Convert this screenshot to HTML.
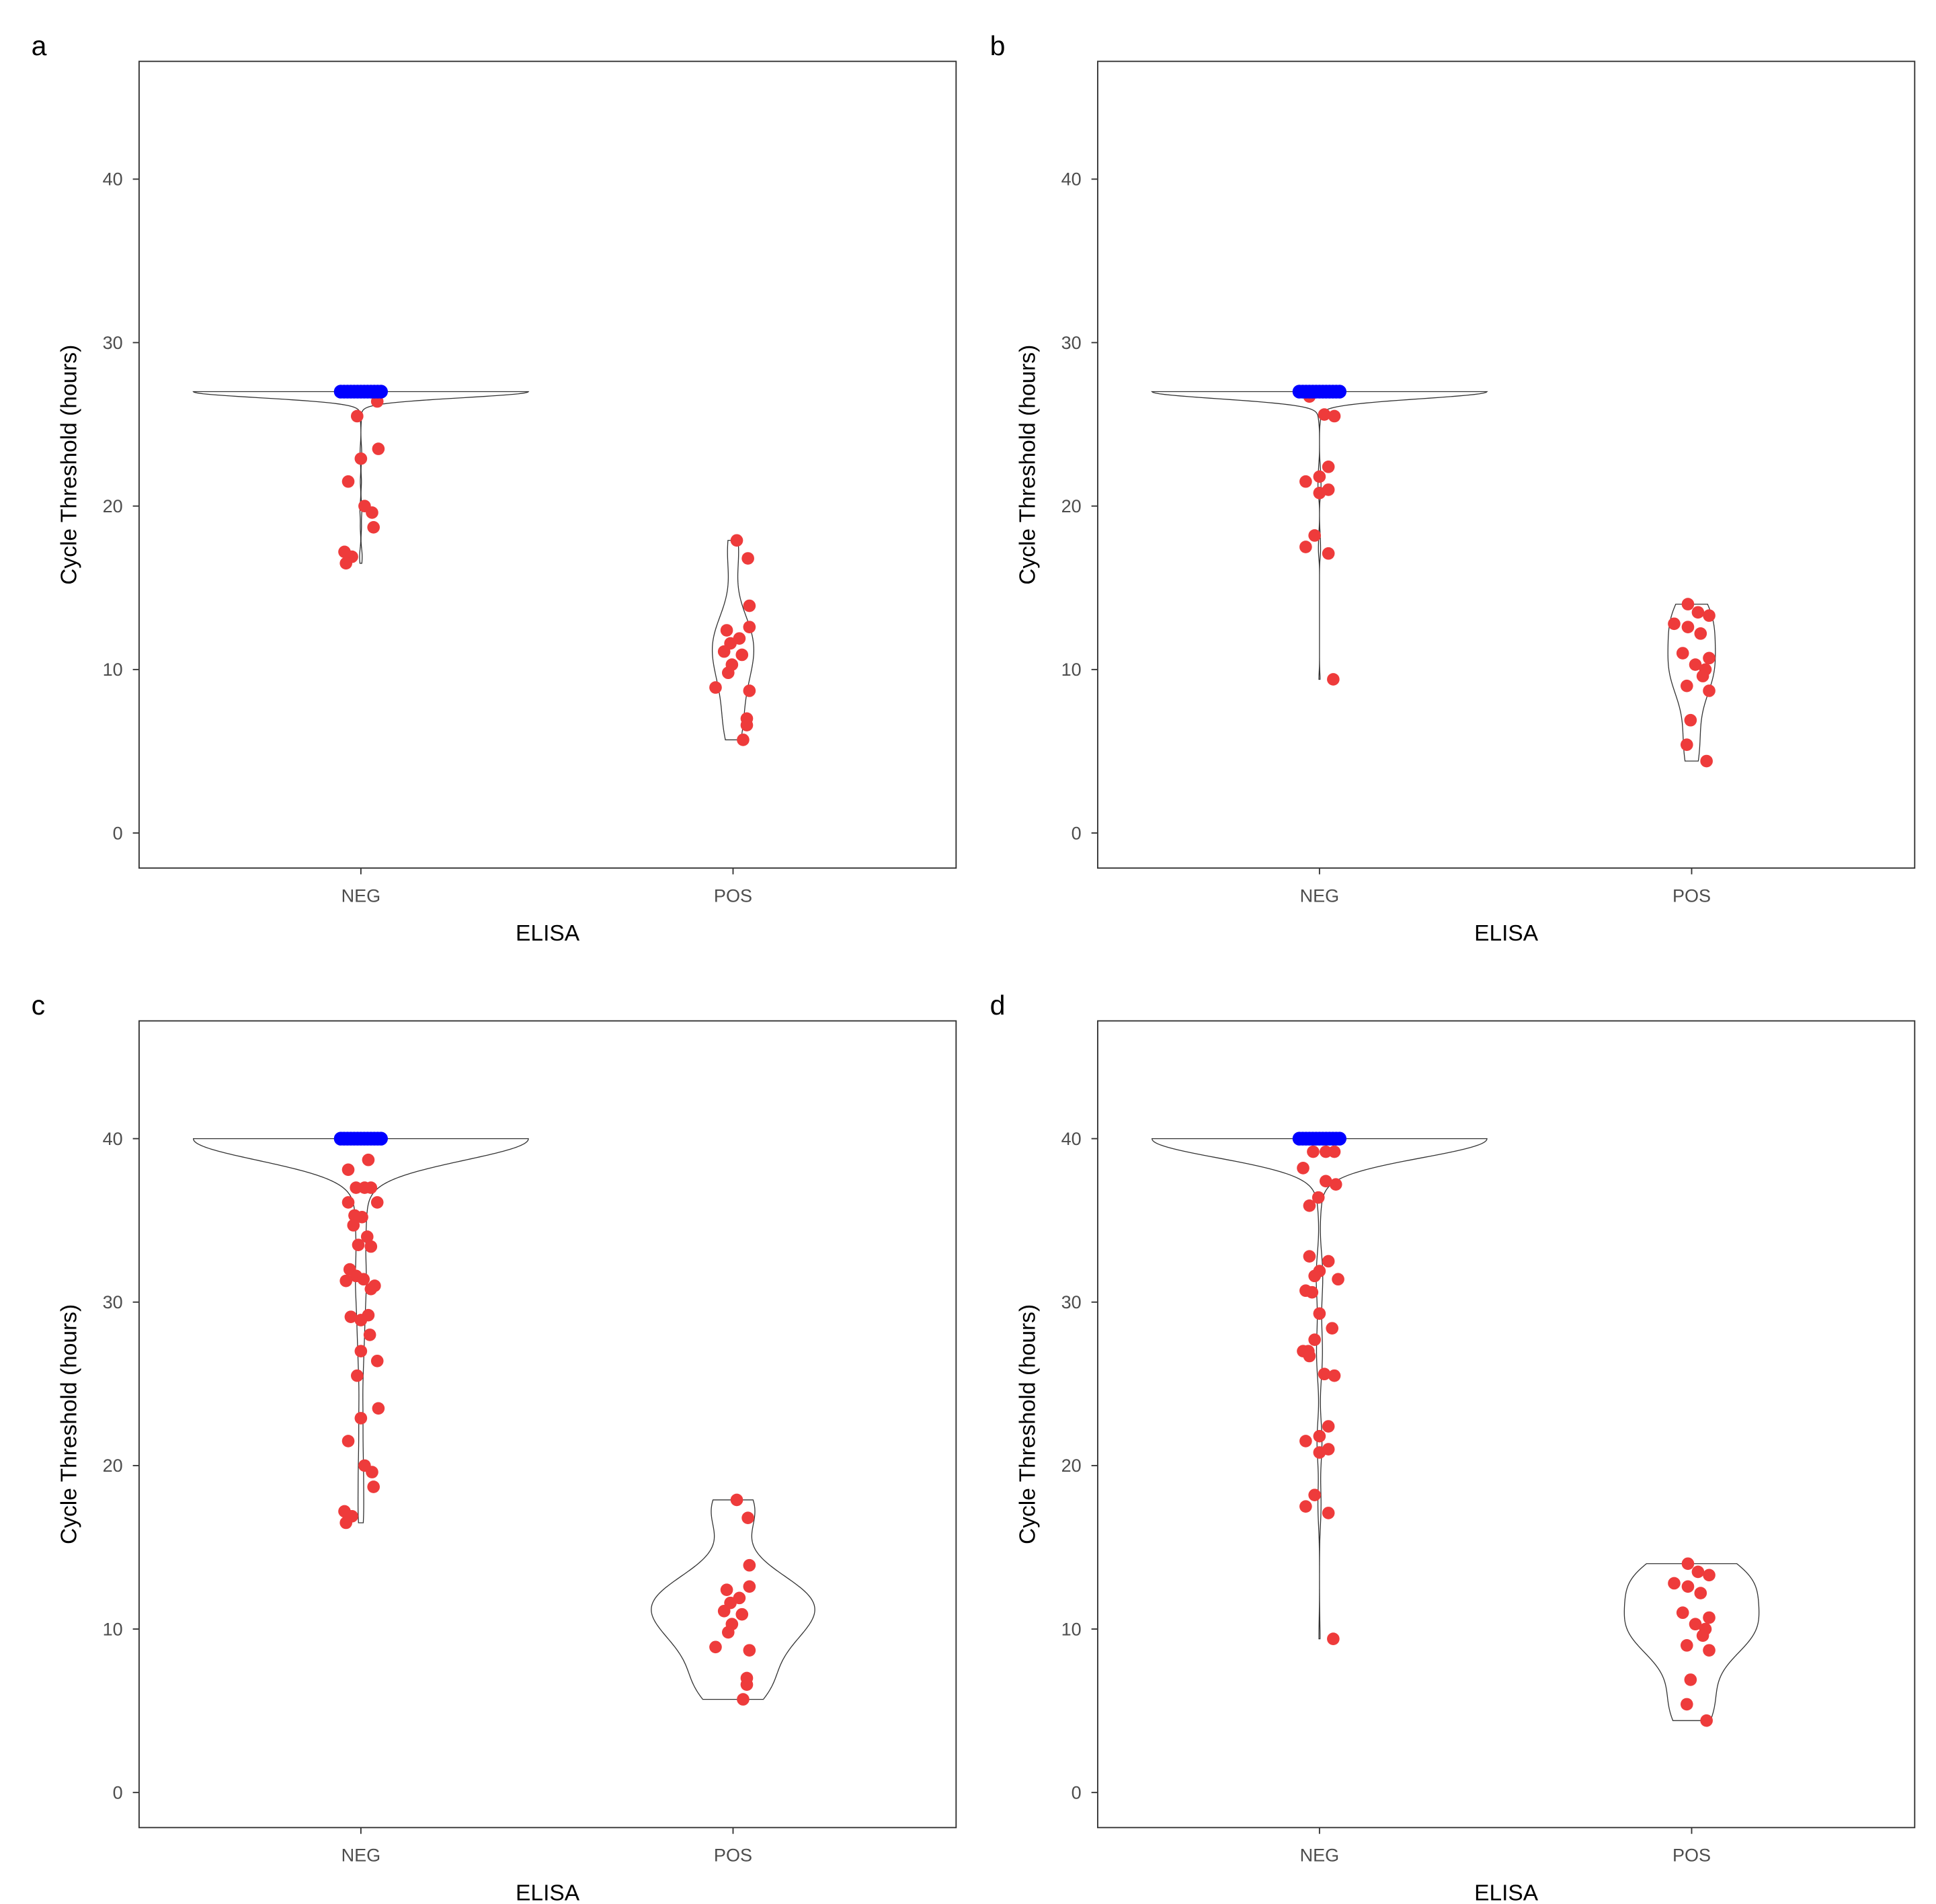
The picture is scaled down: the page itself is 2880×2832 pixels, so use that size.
<!DOCTYPE html>
<html><head><meta charset="utf-8"><style>
html,body{margin:0;padding:0;background:#fff}
svg{display:block}
text{font-family:"Liberation Sans",Arial,sans-serif}
</style></head><body>
<svg id="fig" xmlns="http://www.w3.org/2000/svg" width="2880" height="2832" viewBox="0 0 1545 1520" preserveAspectRatio="none"></svg>
<script>
// ---- data (values in hours, jitter in category units) ----
const categories = ["NEG","POS"];
const yTicks = [0,10,20,30,40];
const panelLabels = ["a","b","c","d"];
const blueValues = [27,27,40,40];
const blueCounts = [300,300,220,300];
const negA = [26.4,25.5,23.5,22.9,21.5,20.0,19.6,18.7,17.2,16.9,16.5];
const negAJit = [.044,-.01,.047,0,-.034,.01,.03,.034,-.044,-.024,-.04];
const posA = [17.9,16.8,13.9,12.6,12.4,11.9,11.6,11.1,10.9,10.3,9.8,8.9,8.7,7.0,6.6,5.7];
const posAJit = [.01,.04,.044,.044,-.017,.017,-.007,-.024,.024,-.003,-.013,-.047,.044,.037,.037,.027];
const negCExtra = [38.7,38.1,37.0,37.0,37.0,36.1,36.1,35.3,35.2,34.7,34.0,33.5,33.4,32.0,31.6,31.3,31.4,31.0,30.8,29.1,29.2,28.9,28.0,27.0];
const negCExtraJit = [.02,-.034,-.013,.01,.027,-.034,.044,-.017,.003,-.02,.017,-.007,.027,-.03,-.013,-.04,.007,.037,.027,-.027,.02,0,.024,0];
const negB = [26.7,25.6,25.5,22.4,21.8,21.5,21.0,20.8,18.2,17.5,17.1,9.4];
const negBJit = [-.027,.013,.04,.024,0,-.037,.024,0,-.013,-.037,.024,.037];
const posB = [14.0,13.5,13.3,12.8,12.6,12.2,11.0,10.7,10.3,10.0,9.6,9.0,8.7,6.9,5.4,4.4];
const posBJit = [-.01,.017,.047,-.047,-.01,.024,-.024,.047,.01,.037,.03,-.013,.047,-.003,-.013,.04];
const negDExtra = [39.2,39.2,39.2,38.2,37.4,37.2,36.4,35.9,32.8,32.5,31.9,31.4,31.6,30.7,30.6,29.3,28.4,27.7,27.0,27.0];
const negDExtraJit = [-.017,.017,.04,-.044,.017,.044,-.003,-.027,-.027,.024,0,.05,-.013,-.037,-.02,0,.034,-.013,-.03,-.044];
const blueJitter = [-.054,-.045,-.036,-.027,-.018,-.009,0,.009,.018,.027,.036,.045,.054];

const NS="http://www.w3.org/2000/svg";
const svg=document.getElementById('fig');
function mk(tag,attrs,parent){const e=document.createElementNS(NS,tag);for(const k in attrs)e.setAttribute(k,attrs[k]);(parent||svg).appendChild(e);return e;}

function kde(vals){
  const n=vals.length;const s=[...vals].sort((a,b)=>a-b);
  const mean=s.reduce((a,b)=>a+b,0)/n;
  const sd=Math.sqrt(s.reduce((a,b)=>a+(b-mean)**2,0)/(n-1));
  const q=p=>{const h=(n-1)*p,l=Math.floor(h);return s[l]+(h-l)*((s[Math.min(l+1,n-1)])-s[l]);};
  const iqr=(q(.75)-q(.25))/1.34;
  let lo=Math.min(sd,iqr>0?iqr:sd);if(!(lo>0))lo=sd||1;
  const bw=0.9*lo*Math.pow(n,-0.2);
  const min=s[0],max=s[n-1],G=400,pts=[];
  for(let i=0;i<G;i++){const x=min+(max-min)*i/(G-1);let d=0;for(const v of s)d+=Math.exp(-0.5*((x-v)/bw)**2);d/=n*bw*Math.sqrt(2*Math.PI);pts.push([x,d]);}
  return pts;
}

const panels=[
 {neg:negA,negJ:negAJit,pos:posA,posJ:posAJit},
 {neg:negB,negJ:negBJit,pos:posB,posJ:posBJit},
 {neg:negCExtra.concat(negA),negJ:negCExtraJit.concat(negAJit),pos:posA,posJ:posAJit},
 {neg:negDExtra.concat(negB),negJ:negDExtraJit.concat(negBJit),pos:posB,posJ:posBJit}
];

panels.forEach((p,i)=>{
  const ox=(i%2)*765, oy=Math.floor(i/2)*766;
  const g=mk('g',{});
  
  
  const X=(c,j)=>ox+288+(c+(j||0))*297;
  const Y=v=>oy+665-v*13.05;
  const fr=mk('rect',{x:ox+111,y:oy+49,width:652,height:644,fill:'none',stroke:'#333','stroke-width':1},g);
  
  
  const pl=mk('text',{x:ox+25,y:oy+44,'font-size':22,fill:'#000'},g);pl.textContent=panelLabels[i];
  
  
  yTicks.forEach(t=>{
    mk('line',{x1:ox+106,x2:ox+111,y1:Y(t),y2:Y(t),stroke:'#333','stroke-width':1},g);
    const tl=mk('text',{x:ox+98,y:Y(t)+5,'font-size':14.5,fill:'#4d4d4d','text-anchor':'end'},g);tl.textContent=t;
    
    
  });
  categories.forEach((c,k)=>{
    mk('line',{x1:X(k),x2:X(k),y1:oy+693,y2:oy+698,stroke:'#333','stroke-width':1},g);
    const tl=mk('text',{x:X(k),y:oy+720,'font-size':14.5,fill:'#4d4d4d','text-anchor':'middle'},g);tl.textContent=c;
    
    
  });
  const xt=mk('text',{x:ox+437,y:oy+751,'font-size':18,fill:'#000','text-anchor':'middle'},g);xt.textContent='ELISA';
  
  
  const yt=mk('text',{x:0,y:0,'font-size':18,fill:'#000','text-anchor':'middle',transform:`translate(${ox+61},${oy+371}) rotate(-90)`},g);yt.textContent='Cycle Threshold (hours)';
  
  
  const negAll=p.neg.concat(Array(blueCounts[i]).fill(blueValues[i]));
  const dens=[kde(negAll),kde(p.pos)];
  const maxD=Math.max(...dens.map(d=>Math.max(...d.map(q=>q[1]))));
  dens.forEach((d,k)=>{
    let path='';
    d.forEach((q,j)=>{const w=q[1]/maxD*0.45;path+=(j?'L':'M')+X(k,w).toFixed(2)+','+Y(q[0]).toFixed(2);});
    for(let j=d.length-1;j>=0;j--){const w=d[j][1]/maxD*0.45;path+='L'+X(k,-w).toFixed(2)+','+Y(d[j][0]).toFixed(2);}
    const v=mk('path',{d:path+'Z',fill:'#fff',stroke:'#333','stroke-width':0.7},g);
    
    
  });
  p.neg.forEach((v,j)=>{const c=mk('circle',{cx:X(0,p.negJ[j]),cy:Y(v),r:5,fill:'#EE3B3B'},g);
    
    });
  p.pos.forEach((v,j)=>{const c=mk('circle',{cx:X(1,p.posJ[j]),cy:Y(v),r:5,fill:'#EE3B3B'},g);
    
    });
  blueJitter.forEach(j=>{const c=mk('circle',{cx:X(0,j),cy:Y(blueValues[i]),r:5.5,fill:'#0000FF'},g);
    
    });
});
</script>
</body></html>
